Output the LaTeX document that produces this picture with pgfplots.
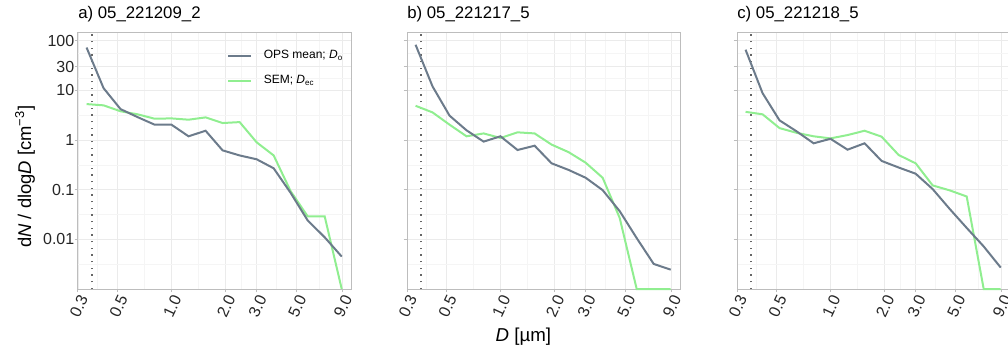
\documentclass[border=0pt]{standalone}
\usepackage{pgfplots}
\pgfplotsset{compat=1.18}
\usepackage{pgfplotstable}
\usepackage{fontspec}
\setmainfont{Liberation Sans}
\definecolor{opscol}{HTML}{6C7B8B}
\definecolor{semcol}{HTML}{90EE90}
\definecolor{gridmaj}{HTML}{EBEBEB}
\definecolor{gridmin}{HTML}{F5F5F5}
\definecolor{bordercol}{HTML}{BDBDBD}
\definecolor{dotcol}{HTML}{666666}

\pgfplotstableread{
x ops sem
0.335 73 5.3
0.417 11.1 5.0
0.519 4.2 3.8
0.646 2.9 3.3
0.805 2.04 2.69
1.0 2.04 2.73
1.246 1.19 2.57
1.552 1.54 2.86
1.932 0.62 2.2
2.406 0.49 2.3
2.996 0.41 0.9
3.730 0.27 0.49
4.644 0.086 0.093
5.782 0.024 0.029
7.198 0.011 0.029
8.962 0.0045 0.001
}\dataA

\pgfplotstableread{
x ops sem
0.335 83 4.9
0.417 12 3.6
0.519 3.1 2.04
0.646 1.57 1.19
0.805 0.93 1.36
1.0 1.19 1.1
1.246 0.63 1.43
1.552 0.77 1.36
1.932 0.34 0.81
2.406 0.25 0.57
2.996 0.174 0.35
3.730 0.098 0.174
4.644 0.037 0.027
5.782 0.0106 0.001
7.198 0.0032 0.001
8.962 0.00245 0.001
}\dataB

\pgfplotstableread{
x ops sem
0.335 66 3.7
0.417 8.8 3.3
0.519 2.49 1.74
0.646 1.5 1.4
0.805 0.86 1.19
1.0 1.06 1.08
1.246 0.64 1.26
1.552 0.86 1.54
1.932 0.38 1.17
2.406 0.28 0.5
2.996 0.21 0.34
3.730 0.103 0.122
4.644 0.041 0.097
5.782 0.017 0.073
7.198 0.0072 0.001
8.962 0.0027 0.001
}\dataC

\pgfplotsset{
  every axis/.append style={
    width=204.75pt, height=192.75pt, scale only axis,
    xmin=0.3, xmax=10.1, ymin=0.001, ymax=150,
    xtick={0.3,0.5,1,2,3,5,9},
    xticklabels={0.3,0.5,1.0,2.0,3.0,5.0,9.0},
    ytick={0.01,0.1,1,10,30,100},
    minor xtick={0.387,0.707,1.414,2.449,3.873,6.708},
    minor ytick={0.00316,0.0316,0.316,3.16,17.3,54.8},
    grid=both,
    major grid style={draw=gridmaj, line width=0.6pt},
    minor grid style={draw=gridmin, line width=0.45pt},
    minor tick length=0pt, major tick length=2.6pt,
    tick align=outside, tick pos=left,
    axis line style={draw=bordercol, line width=0.75pt},
    tick style={draw=bordercol, line width=0.75pt},
    xticklabel style={xshift=0.6pt, yshift=-10.2pt, rotate=65,
      anchor=center, inner sep=0pt,
      font=\fontsize{12}{14}\selectfont, text=black!85},
    yticklabel style={anchor=east, inner sep=0pt,
      font=\fontsize{12}{14}\selectfont, text=black!85},
    title style={at={(0,1)}, anchor=base west, yshift=4pt, inner sep=0pt,
      font=\fontsize{12.6}{15}\selectfont},
    clip=false,
  },
}

\begin{document}
\begin{tikzpicture}
\path[use as bounding box] (0,0) rectangle (756pt,258pt);

\begin{loglogaxis}[at={(58.5pt,41.25pt)}, anchor=south west,
  title={a) 05\_221209\_2},
  yticklabels={0.01,0.1,1,10,30,100},
  legend style={draw=none, fill=none, at={(0.545,0.94)}, anchor=north west,
    font=\fontsize{9}{11}\selectfont, row sep=7pt, column sep=0pt, inner sep=0pt},
  legend cell align=left,
]
\addplot[draw=dotcol, line width=1.1pt, dash pattern=on 1.1pt off 3.9pt, forget plot] coordinates {(0.36,0.001) (0.36,150)};
\addplot[draw=semcol, line width=1.5pt, forget plot] table[x=x, y=sem] {\dataA};
\addplot[draw=opscol, line width=1.5pt] table[x=x, y=ops] {\dataA};
\addlegendentry{\hspace*{7pt}OPS mean; \textit{D}\textsubscript{o}}
\addlegendimage{draw=semcol, line width=1.5pt}
\addlegendentry{\hspace*{7pt}SEM; \textit{D}\textsubscript{ec}}
\end{loglogaxis}

\begin{loglogaxis}[at={(305.25pt,41.25pt)}, anchor=south west,
  title={b) 05\_221217\_5},
  yticklabels={,,,,,},
]
\addplot[draw=dotcol, line width=1.1pt, dash pattern=on 1.1pt off 3.9pt] coordinates {(0.36,0.001) (0.36,150)};
\addplot[draw=semcol, line width=1.5pt] table[x=x, y=sem] {\dataB};
\addplot[draw=opscol, line width=1.5pt] table[x=x, y=ops] {\dataB};
\end{loglogaxis}

\begin{loglogaxis}[at={(552.75pt,41.25pt)}, anchor=south west,
  title={c) 05\_221218\_5},
  yticklabels={,,,,,},
]
\addplot[draw=dotcol, line width=1.1pt, dash pattern=on 1.1pt off 3.9pt] coordinates {(0.36,0.001) (0.36,150)};
\addplot[draw=semcol, line width=1.5pt] table[x=x, y=sem] {\dataC};
\addplot[draw=opscol, line width=1.5pt] table[x=x, y=ops] {\dataC};
\end{loglogaxis}

\node[rotate=90, font=\fontsize{13.8}{16}\selectfont] at (18.75pt,125.5pt)
  {d\textit{N} / dlog\textit{D} [cm\textsuperscript{−3}]};
\node[anchor=base, font=\fontsize{14}{16}\selectfont] at (392.5pt,1.9pt) {\textit{D} [µm]};
\end{tikzpicture}
\end{document}
